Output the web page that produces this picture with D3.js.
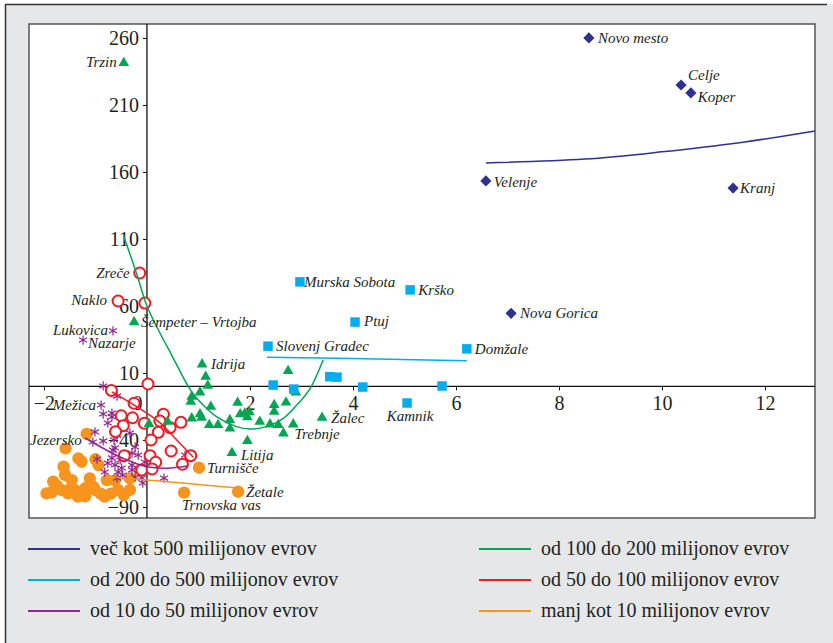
<!DOCTYPE html>
<html><head><meta charset="utf-8">
<script src="https://cdn.jsdelivr.net/npm/d3@7"></script>
<style>
html,body{margin:0;padding:0;background:#fff;}
svg{display:block;}
svg text{font-family:"Liberation Serif","Times New Roman","DejaVu Serif",serif;}
</style></head>
<body>
<svg id="chart" width="833" height="643"></svg>
<script>
// ---------- DATA (x, y) ----------
const xTicks = [-2, 0, 2, 4, 6, 8, 10, 12];
const yTicks = [260, 210, 160, 110, 60, 10, -40, -90];

const seriesNames = [
  "več kot 500 milijonov evrov",
  "od 200 do 500 milijonov evrov",
  "od 10 do 50 milijonov evrov",
  "od 100 do 200 milijonov evrov",
  "od 50 do 100 milijonov evrov",
  "manj kot 10 milijonov evrov"
];

// [label, x, y]
const over500 = [
  ["Novo mesto", 8.58, 260], ["Celje", 10.37, 224.9], ["Koper", 10.56, 219],
  ["Velenje", 6.58, 153.3], ["Kranj", 11.38, 148], ["Nova Gorica", 7.07, 54.5]
];
const from200to500 = [
  ["Murska Sobota", 2.97, 78], ["Krško", 5.11, 72], ["Ptuj", 4.04, 48],
  ["Slovenj Gradec", 2.35, 30], ["Domžale", 6.21, 28],
  [null, 2.45, 1], [null, 2.85, -2], [null, 3.55, 7.2], [null, 3.69, 6.9],
  [null, 4.19, -0.5], [null, 5.73, 0.3], ["Kamnik", 5.05, -12.4]
];
const from100to200 = [
  ["Trzin", -0.45, 241.3], ["Šempeter – Vrtojba", -0.25, 48], ["Idrija", 1.07, 16.5],
  ["Žalec", 3.40, -23.4], ["Trebnje", 2.65, -35], ["Litija", 1.65, -49.7],
  [null, 1.14, 7.2], [null, 1.18, 0.5], [null, 1.03, -4.4], [null, 0.87, -7.7],
  [null, 0.85, -11.4], [null, 1.24, -15.1], [null, 1.03, -20.8], [null, 1.06, -23.4],
  [null, 0.87, -23.8], [null, 1.21, -28.8], [null, 1.38, -28.8], [null, 1.61, -25.1],
  [null, 1.61, -31.3], [null, 1.76, -12.2], [null, 1.81, -20.8], [null, 1.90, -20.1],
  [null, 1.99, -19.3], [null, 1.95, -23], [null, 1.95, -40.7], [null, 2.19, -26.3],
  [null, 2.39, -28.3], [null, 2.47, -13.9], [null, 2.47, -18.9], [null, 2.70, -11.9],
  [null, 2.74, 11.5], [null, 2.89, -4.4], [null, 2.84, -28.3], [null, 2.55, -28.8],
  [null, 0.04, -28], [null, 0.4, -26.3]
];
const from50to100 = [
  ["Zreče", -0.14, 84.6], ["Naklo", -0.56, 63.7], [null, -0.04, 62.2], [null, 0.02, 1.8],
  [null, -0.69, -3], [null, -0.25, -12.6], [null, -0.5, -21.9], [null, -0.28, -23.4],
  [null, -0.46, -29.3], [null, -0.05, -27.5], [null, 0.32, -20.8], [null, 0.25, -25.8],
  [null, 0.45, -30.8], [null, 0.66, -26.8], [null, -0.61, -33.8], [null, 0.22, -34.3],
  [null, 0.08, -40], [null, 0.47, -48.2], [null, 0.85, -51.7], [null, -0.44, -51.7],
  [null, 0.06, -51.7], [null, 0.17, -56.6], [null, 0.69, -58.1], [null, -0.1, -62.4],
  [null, 0.1, -61.6]
];
const from10to50 = [
  ["Lukovica", -0.66, 41.5], ["Nazarje", -1.24, 34.6], ["Mežica", -0.89, -13.9],
  [null, -0.85, 0.3], [null, -0.58, -7.2], [null, -0.68, -19.9], [null, -0.85, -20.6],
  [null, -0.76, -27.3], [null, -0.68, -22.8], [null, -1.01, -34], [null, -1.05, -41.5],
  [null, -0.85, -40.7], [null, -0.64, -40], [null, -0.58, -36.3], [null, -0.33, -34.8],
  [null, -0.62, -45.9], [null, -0.66, -47.5], [null, -0.23, -45.2], [null, -0.29, -49.7],
  [null, -0.97, -54.2], [null, -0.76, -57.2], [null, -0.68, -53.4], [null, -0.52, -54.9],
  [null, -0.39, -51.9], [null, -0.17, -51.2], [null, -0.29, -58.7], [null, -0.62, -58.6],
  [null, -0.49, -60.9], [null, -0.82, -63.9], [null, -0.56, -63.9], [null, -0.47, -66.1],
  [null, -0.23, -67.6], [null, -0.58, -68.4], [null, -0.1, -68.4], [null, -0.08, -72.1],
  [null, 0.33, -68.4], [null, 0.74, -51.2], [null, -0.29, -62.4], [null, -0.04, -56.4]
];
const under10 = [
  ["Jezersko", -1.17, -35.5], ["Turnišče", 1.01, -60.7], ["Žetale", 1.77, -78.6],
  ["Trnovska vas", 0.72, -79.3],
  [null, -1.58, -46.2], [null, -1.33, -53.8], [null, -1.27, -56.2], [null, -1.0, -54.4],
  [null, -0.94, -58.7], [null, -1.62, -59.9], [null, -1.59, -66.1], [null, -1.82, -71.1],
  [null, -1.95, -79.8], [null, -1.66, -77.3], [null, -1.46, -69.9], [null, -1.40, -77.3],
  [null, -1.20, -76], [null, -1.11, -68.6], [null, -1.01, -77.3], [null, -0.82, -82.3],
  [null, -1.04, -74.9], [null, -0.78, -69.9], [null, -0.62, -69.9], [null, -0.56, -77.3],
  [null, -0.33, -68.6], [null, -0.33, -77.3], [null, -1.34, -82.3], [null, -1.53, -79.8],
  [null, -0.14, -62.4], [null, -1.75, -74], [null, -1.2, -82], [null, -0.9, -80],
  [null, -1.85, -79], [null, -1.48, -76], [null, -0.7, -80], [null, -0.45, -81]
];

// trend lines
const trendOver500 = [[6.58, 166.7], [8.5, 169.6], [10, 175], [11.5, 181.8], [12.97, 190.6]];
const trend200to500 = [[2.33, 21.7], [4, 20.8], [6.21, 19.2]];
const trend100to200 = [[-0.45, 112], [-0.2, 84], [0, 60], [0.25, 40], [0.48, 23.4], [0.85, -3],
  [1.09, -13.9], [1.35, -22.6], [1.74, -30], [2.0, -31.8], [2.32, -30], [2.65, -23.8],
  [2.91, -13.9], [3.17, -1.4], [3.42, 19.7]];
const trend50to100 = [[-0.68, -4.1], [-0.2, -15.1], [0.25, -27], [0.58, -40], [0.9, -52.9]];
const trend10to50 = [[-1.2, -38.5], [-0.52, -52.7], [0, -60], [0.39, -61], [0.78, -59.4]];
const trendUnder10 = [[-0.7, -67.5], [0, -69.8], [0.8, -72.5], [1.77, -75.8]];

// ---------- STYLE / LAYOUT ----------
const C = {
  navy: "#2e3192", cyan: "#00aeef", purple: "#92278f",
  green: "#00a651", red: "#ed1c24", orange: "#f7941d", text: "#231f20"
};
// label offsets [dx, dy, anchor]
const labelPos = {
  "Novo mesto": [9, 5, "start"], "Celje": [7, -5, "start"], "Koper": [7, 9, "start"],
  "Velenje": [8, 6, "start"], "Kranj": [7, 5, "start"], "Nova Gorica": [9, 5, "start"],
  "Murska Sobota": [4, 5, "start"], "Krško": [8, 5, "start"], "Ptuj": [9, 4, "start"],
  "Slovenj Gradec": [8, 5, "start"], "Domžale": [8, 5, "start"], "Kamnik": [3, 18, "middle"],
  "Trzin": [-7, 4, "end"], "Šempeter – Vrtojba": [7, 5, "start"], "Idrija": [9, 5, "start"],
  "Žalec": [9, 5, "start"], "Trebnje": [11, 6, "start"], "Litija": [9, 7, "start"],
  "Zreče": [-10, 5, "end"], "Naklo": [-11, 4, "end"], "Lukovica": [-5, 4, "end"],
  "Nazarje": [5, 8, "start"], "Mežica": [-5, 5, "end"], "Jezersko": [-5, 11, "end"],
  "Turnišče": [8, 5, "start"], "Žetale": [8, 5, "start"], "Trnovska vas": [-2, 17, "start"]
};

const svg = d3.select("#chart");
const serif = '"Liberation Serif","Times New Roman","DejaVu Serif",serif';

// outer panel
svg.append("rect").attr("x", 5).attr("y", 4).attr("width", 840).attr("height", 660).attr("fill", "#e6e7e8");
svg.append("line").attr("x1", 5).attr("x2", 827).attr("y1", 4.5).attr("y2", 4.5).attr("stroke", "#333").attr("stroke-width", 1.5);
svg.append("line").attr("x1", 5.5).attr("x2", 5.5).attr("y1", 4).attr("y2", 643).attr("stroke", "#333").attr("stroke-width", 1.5);

const L = 29, R = 815, T = 24, B = 518;
svg.append("rect").attr("x", L).attr("y", T).attr("width", R - L).attr("height", B - T)
  .attr("fill", "#fff").attr("stroke", "#555").attr("stroke-width", 1.5);

const x = d3.scaleLinear().domain([-2.29, 12.97]).range([L, R]);
const y = d3.scaleLinear().domain([270.4, -98.2]).range([T, B]);

// axes lines
svg.append("line").attr("x1", L).attr("x2", R).attr("y1", y(0)).attr("y2", y(0)).attr("stroke", "#111").attr("stroke-width", 1.3);
svg.append("line").attr("x1", x(0)).attr("x2", x(0)).attr("y1", T).attr("y2", B).attr("stroke", "#111").attr("stroke-width", 1.3);

const yAxis = svg.append("g").attr("transform", `translate(${x(0)},0)`)
  .call(d3.axisLeft(y).tickValues(yTicks).tickSize(4).tickPadding(4));
const xAxis = svg.append("g").attr("transform", `translate(0,${y(0)})`)
  .call(d3.axisBottom(x).tickValues(xTicks).tickSize(4).tickPadding(5));
[yAxis, xAxis].forEach(g => {
  g.attr("font-family", null).attr("font-size", null);
  g.select(".domain").remove();
  g.selectAll("line").attr("stroke", "#111");
  g.selectAll("text").style("font-family", serif).style("font-size", "20px").attr("fill", C.text);
});
xAxis.selectAll(".tick").filter(d => d === 0).select("text").attr("dx", -10);

// trend lines
const line = d3.line().x(d => x(d[0])).y(d => y(d[1])).curve(d3.curveCatmullRom);
const trends = [
  [trendOver500, C.navy], [trend200to500, C.cyan], [trend100to200, C.green],
  [trend50to100, C.red], [trend10to50, C.purple], [trendUnder10, C.orange]
];

const plot = svg.append("g");

function drawSymbols(data, type, size, fill, stroke, sw) {
  plot.append("g").selectAll("path").data(data).join("path")
    .attr("transform", d => `translate(${x(d[1])},${y(d[2])})`)
    .attr("d", d3.symbol(type, size))
    .attr("fill", fill).attr("stroke", stroke || "none").attr("stroke-width", sw || 0);
}

drawSymbols(under10, d3.symbolCircle, 120, C.orange);
drawSymbols(from10to50, d3.symbolAsterisk, 60, "none", C.purple, 1.2);
plot.append("g").selectAll("circle").data(from50to100).join("circle")
  .attr("cx", d => x(d[1])).attr("cy", d => y(d[2])).attr("r", 5.5)
  .attr("fill", "#fff").attr("stroke", C.red).attr("stroke-width", 2);
drawSymbols(from100to200, d3.symbolTriangle, 50, C.green);
drawSymbols(from200to500, d3.symbolSquare, 90, C.cyan);
drawSymbols(over500, d3.symbolDiamond2, 80, C.navy);

trends.forEach(([pts, col]) => {
  plot.append("path").datum(pts).attr("d", line).attr("fill", "none")
    .attr("stroke", col).attr("stroke-width", 1.5);
});

// point labels
const allPts = [].concat(over500, from200to500, from100to200, from50to100, from10to50, under10)
  .filter(d => d[0]);
plot.append("g").selectAll("text").data(allPts).join("text")
  .attr("x", d => x(d[1]) + labelPos[d[0]][0])
  .attr("y", d => y(d[2]) + labelPos[d[0]][1])
  .attr("text-anchor", d => labelPos[d[0]][2])
  .style("font-family", serif).style("font-style", "italic").style("font-size", "15px")
  .attr("fill", C.text).text(d => d[0]);

// legend
const legendCols = [C.navy, C.cyan, C.purple, C.green, C.red, C.orange];
const lg = svg.append("g");
seriesNames.forEach((name, i) => {
  const col = Math.floor(i / 3), row = i % 3;
  const lx = col === 0 ? 28 : 479, ly = 549 + row * 31;
  lg.append("line").attr("x1", lx).attr("x2", lx + 52).attr("y1", ly).attr("y2", ly)
    .attr("stroke", legendCols[i]).attr("stroke-width", 2);
  lg.append("text").attr("x", lx + 62).attr("y", ly + 6).style("font-family", serif)
    .style("font-size", "20px").attr("fill", C.text).text(name);
});
</script>
</body></html>
